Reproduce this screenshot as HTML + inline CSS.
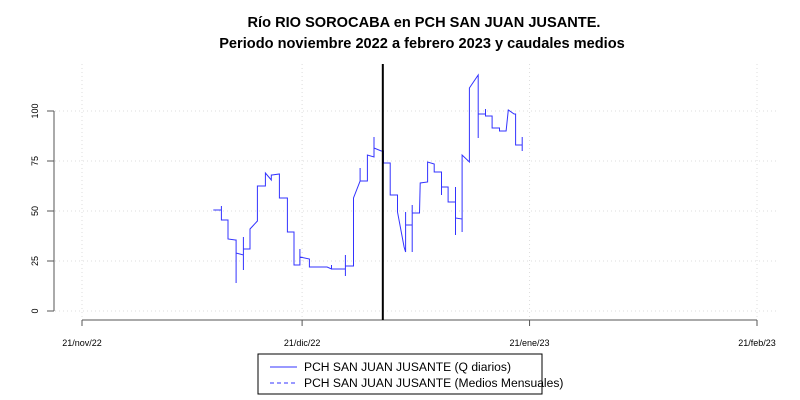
<!DOCTYPE html>
<html><head><meta charset="utf-8"><style>
body{margin:0;background:#fff}
svg{display:block;font-family:"Liberation Sans",sans-serif}
</style></head><body>
<svg id="c" width="800" height="400">
<text x="424" y="27" text-anchor="middle" font-size="14.6" font-weight="bold">Río RIO SOROCABA en PCH SAN JUAN JUSANTE.</text>
<text x="422" y="48" text-anchor="middle" font-size="14.6" font-weight="bold">Periodo noviembre 2022 a febrero 2023 y caudales medios</text>
<g id="grid"></g><g id="axes"></g><g id="series"></g>
<g>
<rect x="258" y="354" width="284" height="40" fill="#fff" stroke="#000"/>
<line x1="270" y1="367" x2="297" y2="367" stroke="#3333ff"/>
<text x="304" y="371" font-size="12.1">PCH SAN JUAN JUSANTE (Q diarios)</text>
<line x1="270" y1="383" x2="297" y2="383" stroke="#3333ff" stroke-dasharray="4,3"/>
<text x="304" y="387" font-size="12.1">PCH SAN JUAN JUSANTE (Medios Mensuales)</text>
</g>
</svg>
<script>
const days=[17.9,19.0,19.0,19.0,19.9,19.9,20.9,21.0,21.0,21.0,22.0,22.0,22.0,22.0,22.9,22.9,23.9,23.9,25.0,25.0,25.8,25.8,25.9,26.9,26.9,28.0,28.0,28.9,28.9,29.7,29.7,29.7,31.0,31.0,33.4,34.0,34.0,34.0,35.9,35.9,35.9,35.9,37.0,37.0,37.9,37.9,37.9,38.9,38.9,39.8,39.8,39.8,40.8,41.1,41.1,42.0,42.0,43.0,43.0,43.9,44.1,44.1,44.1,45.0,45.0,45.0,45.0,46.0,46.1,47.1,47.1,48.0,48.0,49.0,49.0,49.0,49.0,49.9,49.9,50.9,50.9,50.9,50.9,50.9,51.8,51.8,51.8,52.8,52.8,54.0,54.0,54.0,55.0,55.0,55.0,55.9,55.9,56.9,56.9,57.8,58.1,58.9,59.1,59.1,60.0,60.0,60.0];
const flows=[50.5,50.5,52.5,45.5,45.5,36,35.5,35.5,14,29,28,37,20.5,31,31,41,45,62.5,62.5,69,65.5,68,68,68.5,56.5,56.5,39.5,39.5,23,23,31,27,26,22,22,21,23,21,21,28,17.5,22.5,22.5,56.5,65,71.5,65,65,78,77,87,81.5,80,80,74,74,58,58,49.5,32,29.5,49.5,43,43,53,29.5,49,49,64,64.5,74.5,73.5,69.5,69.5,62.5,58,62,62,54.5,54.5,46.5,38,62,46.5,46,39.5,78,74.5,111.5,118,86.5,98.5,98.5,101,97.5,97.5,91.5,91.5,90,90,100.5,98.5,98.5,83,83,87,80];
const yTicks=[0,25,50,75,100];
const xTickDays=[0,30,61,92];
const xTickLabels=["21/nov/22","21/dic/22","21/ene/23","21/feb/23"];
const markerDay=41;
const NS="http://www.w3.org/2000/svg";
const X=d=>82+d*(675/92), Y=v=>311-v*2;
function mk(p,t,a){const e=document.createElementNS(NS,t);for(const k in a)e.setAttribute(k,a[k]);document.getElementById(p).appendChild(e);return e;}
yTicks.forEach(v=>{
 const g=mk('grid','line',{x1:55,x2:778,y1:Y(v),y2:Y(v),stroke:'#dcdcdc','stroke-dasharray':'1,3'});
 
 
 const t=mk('axes','line',{x1:47,x2:54,y1:Y(v),y2:Y(v),stroke:'#555'});
 
 
 const l=mk('axes','text',{x:38,y:Y(v),'font-size':9,'text-anchor':'middle',transform:`rotate(-90 38 ${Y(v)})`});
 l.textContent=v;
 
 
});
xTickDays.forEach((d,i)=>{
 const g=mk('grid','line',{x1:X(d),x2:X(d),y1:64,y2:318,stroke:'#dcdcdc','stroke-dasharray':'1,3'});
 
 
 const t=mk('axes','line',{x1:X(d),x2:X(d),y1:320,y2:326,stroke:'#555'});
 
 
 const l=mk('axes','text',{x:X(d),y:346,'font-size':9,'text-anchor':'middle'});
 l.textContent=xTickLabels[i];
 
 
});
const ya=mk('axes','line',{x1:54,x2:54,y1:Y(100),y2:Y(0),stroke:'#555'});


const xa=mk('axes','line',{x1:X(0),x2:X(92),y1:320,y2:320,stroke:'#555'});


const pts=days.map((d,i)=>X(d).toFixed(1)+','+Y(flows[i]).toFixed(1)).join(' ');
const pl=mk('series','polyline',{points:pts,fill:'none',stroke:'#3333ff','stroke-width':1});


const ml=mk('series','line',{x1:X(markerDay),x2:X(markerDay),y1:64,y2:320,stroke:'#000','stroke-width':2});


</script>
</body></html>
